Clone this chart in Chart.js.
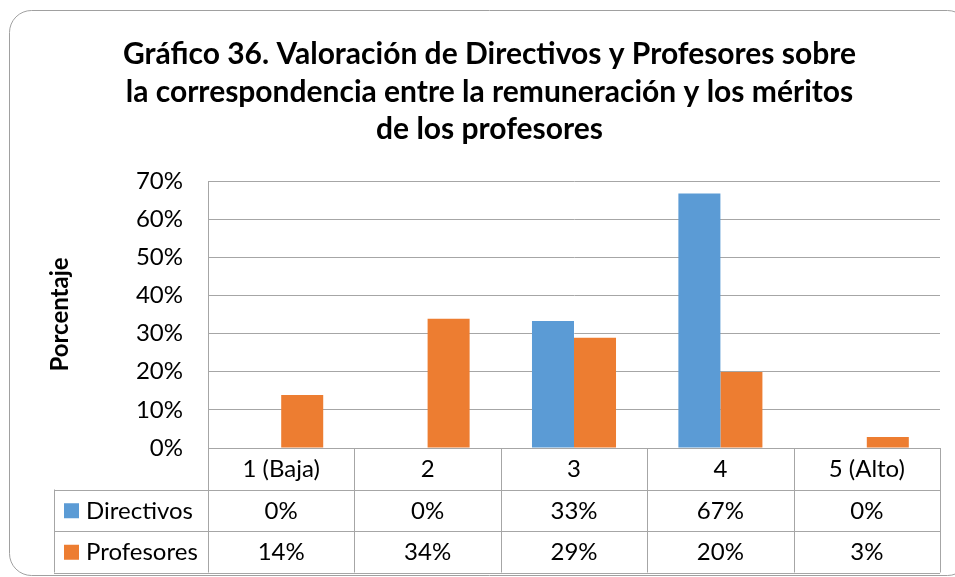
<!DOCTYPE html>
<html>
<head>
<meta charset="utf-8">
<script src="https://cdn.jsdelivr.net/npm/chart.js@4.4.1/dist/chart.umd.min.js"></script>
<style>
  html, body { margin: 0; padding: 0; background: #fff; }
  #wrap { width: 955px; height: 577px; }
</style>
</head>
<body>
<div id="wrap"><canvas id="chart"></canvas></div>
<script>
// data
const categories = ['1 (Baja)', '2', '3', '4', '5 (Alto)'];
const seriesNames = ['Directivos', 'Profesores'];
const directivos = [0, 0, 33.3, 66.7, 0];
const profesores = [13.9, 33.9, 28.9, 19.9, 2.9];
const yTicks = [0, 10, 20, 30, 40, 50, 60, 70];
const titleLines = [
  'Gráfico 36. Valoración de Directivos y Profesores sobre',
  'la correspondencia entre la remuneración y los méritos',
  'de los profesores'
];

const blue = '#5b9bd5';
const orange = '#ed7d31';
const lineClr = '#a6a6a6';
const fontFam = 'Lato, "Open Sans", sans-serif';

// table under the plot (Excel style data table)
const dataTable = {
  id: 'dataTable',
  beforeDraw(chart) {
    const ctx = chart.ctx;
    ctx.save();
    ctx.strokeStyle = '#a0a0a0';
    ctx.lineWidth = 1;
    ctx.beginPath();
    ctx.roundRect(9.5, 10.5, 960, 565, 22);
    ctx.stroke();
    ctx.restore();
  },
  afterDraw(chart) {
    const ctx = chart.ctx;
    const area = chart.chartArea;
    const x = chart.scales.x;
    const rowH = 41.5;
    const leftCol = 54;
    const top = area.bottom;
    const rows = [top, top + rowH, top + rowH * 2, top + rowH * 3];
    const half = (x.getPixelForValue(1) - x.getPixelForValue(0)) / 2;

    ctx.save();
    ctx.strokeStyle = lineClr;
    ctx.lineWidth = 1;
    ctx.beginPath();
    ctx.moveTo(area.left, Math.round(rows[0]) + 0.5);
    ctx.lineTo(area.right, Math.round(rows[0]) + 0.5);
    for (let r = 1; r < rows.length; r++) {
      ctx.moveTo(leftCol, Math.round(rows[r]) + 0.5);
      ctx.lineTo(area.right, Math.round(rows[r]) + 0.5);
    }
    ctx.moveTo(leftCol + 0.5, rows[1]);
    ctx.lineTo(leftCol + 0.5, rows[3]);
    for (let i = 0; i <= categories.length; i++) {
      const px = Math.round(x.getPixelForValue(i) - half) + 0.5;
      ctx.moveTo(px, rows[0]);
      ctx.lineTo(px, rows[3]);
    }
    ctx.stroke();

    ctx.fillStyle = '#000';
    ctx.font = '24px ' + fontFam;
    ctx.textAlign = 'center';
    ctx.textBaseline = 'middle';
    categories.forEach((c, i) => {
      const cx = x.getPixelForValue(i);
      ctx.fillText(c, cx, rows[0] + rowH / 2 + 1);
      ctx.fillText(Math.round(directivos[i]) + '%', cx, rows[1] + rowH / 2 + 1);
      ctx.fillText(Math.round(profesores[i]) + '%', cx, rows[2] + rowH / 2 + 1);
    });

    ctx.textAlign = 'left';
    [blue, orange].forEach((clr, r) => {
      const cy = rows[r + 1] + rowH / 2;
      ctx.fillStyle = clr;
      ctx.fillRect(64, cy - 7, 15, 15);
      ctx.fillStyle = '#000';
      ctx.fillText(seriesNames[r], 86, cy + 1);
    });
    ctx.restore();
  }
};

new Chart(document.getElementById('chart'), {
  type: 'bar',
  data: {
    labels: categories,
    datasets: [
      { label: seriesNames[0], data: directivos, backgroundColor: blue },
      { label: seriesNames[1], data: profesores, backgroundColor: orange }
    ]
  },
  options: {
    responsive: true,
    maintainAspectRatio: false,
    animation: false,
    layout: { padding: { left: 39, right: 15, top: 0, bottom: 129 } },
    datasets: { bar: { categoryPercentage: 0.574, barPercentage: 1 } },
    plugins: {
      legend: { display: false },
      tooltip: { enabled: false },
      title: {
        display: true,
        text: titleLines,
        color: '#000',
        font: { family: fontFam, size: 30, weight: 'bold', lineHeight: '37.5px' },
        padding: { top: 36, bottom: 32.5 }
      }
    },
    scales: {
      x: {
        afterFit(scale) { scale.height = 0; },
        ticks: { display: false },
        grid: { display: false },
        border: { display: false }
      },
      y: {
        min: 0,
        max: 70,
        afterBuildTicks(scale) { scale.ticks = yTicks.map(v => ({ value: v })); },
        afterFit(scale) { scale.width = 169; },
        ticks: {
          padding: 25,
          color: '#000',
          font: { family: fontFam, size: 24 },
          callback: v => v + '%'
        },
        grid: { color: lineClr, drawTicks: false },
        border: { display: true, color: lineClr },
        title: {
          display: true,
          text: 'Porcentaje',
          color: '#000',
          font: { family: fontFam, size: 24, weight: 'bold', lineHeight: 1.2 },
          padding: { top: 6.5, bottom: 0 }
        }
      }
    }
  },
  plugins: [dataTable]
});
</script>
</body>
</html>
